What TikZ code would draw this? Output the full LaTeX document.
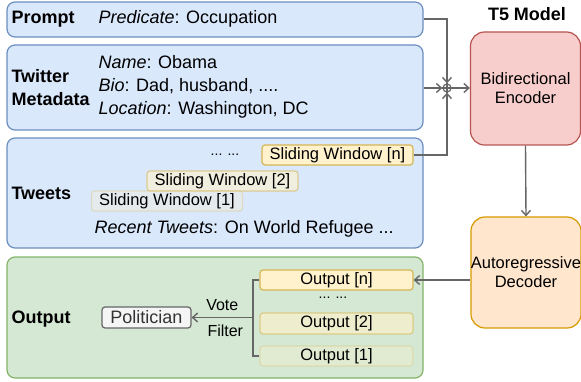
\documentclass[tikz,border=0pt]{standalone}
\usepackage{fontspec}
\setmainfont{Liberation Sans}
\usetikzlibrary{arrows.meta,positioning,calc}
\definecolor{inputblue}{HTML}{DAE8FC}
\definecolor{inputedge}{HTML}{6C8EBF}
\definecolor{outgreen}{HTML}{D5E8D4}
\definecolor{outedge}{HTML}{82B366}
\definecolor{encred}{HTML}{F8CECC}
\definecolor{encedge}{HTML}{B85450}
\definecolor{decorange}{HTML}{FFE6CC}
\definecolor{decedge}{HTML}{D79B00}
\definecolor{winyellow}{HTML}{FFF2CC}
\definecolor{winedge}{HTML}{D6B656}
\definecolor{linkgray}{HTML}{666666}
\newcommand{\bigtxt}{\fontsize{18}{23}\selectfont}
\newcommand{\boxtxt}{\fontsize{16.5}{19}\selectfont}

\begin{document}
\begin{tikzpicture}[x=1pt, y=-1pt,
    panel/.style={draw=inputedge, fill=inputblue, line width=1.2pt, rounded corners=8pt,
                  minimum width=416pt, inner sep=0pt},
    block/.style={line width=1.2pt, rounded corners=14pt, minimum width=110pt,
                  inner sep=0pt, align=center, font=\boxtxt},
    window/.style={draw=winedge, fill=winyellow, line width=1.2pt, rounded corners=3pt,
                   minimum width=151pt, minimum height=20pt, inner sep=0pt, font=\boxtxt},
    label/.style={anchor=west, font=\bigtxt\bfseries, align=left},
    link/.style={draw=linkgray, line width=1.4pt, -{Straight Barb[length=5pt,width=9pt]}},
    plain/.style={draw=linkgray, line width=1.4pt}
  ]
    \useasboundingbox (0,0) rectangle (581,382);

    % Input panels
    \node[panel, minimum height=35pt] (prompt) at (215,19.5) {};
    \node[panel, minimum height=85pt] (meta) at (215,87.5) {};
    \node[panel, minimum height=110pt] (tweets) at (215,193) {};
    \node[panel, draw=outedge, fill=outgreen, minimum height=121pt] (output) at (215,317.5) {};

    % Panel titles
    \node[label] (promptlbl) at (8,19) {Prompt};
    \node[label] (metalbl) at (8,88) {Twitter\\Metadata};
    \node[label] (tweetslbl) at (8,193) {Tweets};
    \node[label] (outputlbl) at (8,319) {Output};

    % Panel contents
    \node[anchor=west, font=\bigtxt] (pred) at (95,19) {\textit{Predicate}: Occupation};
    \node[anchor=west, font=\bigtxt, align=left] (fields) at (95,87)
        {\textit{Name}: Obama\\\textit{Bio}: Dad, husband, ....\\\textit{Location}: Washington, DC};
    \node[anchor=west, font=\bigtxt] (recent) at (91,229) {\textit{Recent Tweets}: On World Refugee ...};

    % Sliding windows over the tweets
    \node[window] (win-n) at (337.5,155) {Sliding Window [n]};
    \node[window, fill opacity=0.6, draw opacity=0.6, text opacity=1] (win-2) at (222.5,181) {Sliding Window [2]};
    \node[window, fill opacity=0.3, draw opacity=0.3, text opacity=1] (win-1) at (167,201) {Sliding Window [1]};
    \node[font=\fontsize{14}{16}\selectfont] (windots) at (225,155) {... ...};

    % T5 encoder / decoder
    \node[font=\bigtxt\bfseries] (t5) at (527,14) {T5 Model};
    \node[block, draw=encedge, fill=encred, minimum height=113pt] (enc) at (525.5,88.5) {Bidirectional\\Encoder};
    \node[block, draw=decedge, fill=decorange, minimum height=111pt] (dec) at (526,272.5) {Autoregressive\\Decoder};

    % Generated outputs
    \node[window, minimum width=153pt] (out-n) at (336.5,280) {Output [n]};
    \node[window, minimum width=153pt, minimum height=21pt, fill opacity=0.6, draw opacity=0.6, text opacity=1] (out-2) at (336.5,323.5) {Output [2]};
    \node[window, minimum width=153pt, fill opacity=0.3, draw opacity=0.3, text opacity=1] (out-1) at (336.5,356) {Output [1]};
    \node[font=\fontsize{14}{16}\selectfont] (outdots) at (333,298) {... ...};
    \node[draw=linkgray, fill=white!96!black, line width=1.2pt, rounded corners=3pt, minimum width=89pt,
          minimum height=21pt, inner sep=0pt, text=black!80, font=\bigtxt] (pol) at (146.5,317.5) {Politician};

    % Merge point in front of the encoder
    \node[circle, draw=linkgray, line width=1.2pt, minimum size=8pt, inner sep=0pt] (merge) at (447,88) {};
    \draw[plain] (merge.north) -- (merge.south);
    \draw[plain] (merge.west) -- (merge.east);

    \draw[link] (prompt.east |- pred) -| (merge.north);
    \draw[link] (meta.east |- merge) -- (merge.west);
    \draw[link] (win-n.east) -| (merge.south);
    \draw[link] (merge.east) -- (enc.west |- merge);
    \draw[link] (enc.south) -- (dec.north);
    \draw[link] (dec.west |- out-n) -- (out-n.east);

    % Vote / filter over the outputs
    \coordinate (fork) at (253,317.5);
    \draw[plain] (out-n.west) -- (fork |- out-n) -- (fork |- out-1) -- (out-1.west);
    \draw[link] (fork) -- (pol.east)
        node[midway, above=3pt, font=\fontsize{16}{19}\selectfont] (vote) {Vote}
        node[midway, below=3pt, xshift=3pt, font=\fontsize{16}{19}\selectfont] (filter) {Filter};
\end{tikzpicture}
\end{document}
